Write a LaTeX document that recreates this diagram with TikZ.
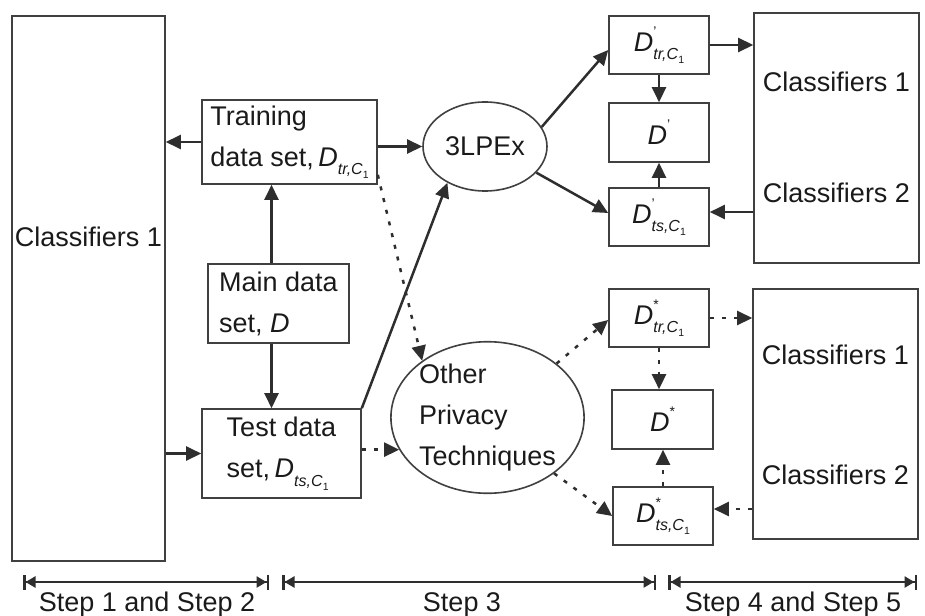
\documentclass[tikz,border=0pt]{standalone}
\usepackage{fontspec}
\setmainfont{Liberation Sans}
\usetikzlibrary{arrows.meta,shapes.geometric}

\definecolor{linec}{HTML}{2E2E2E}
\definecolor{boxc}{HTML}{404040}
\definecolor{txtc}{HTML}{1A1A1A}

% D with a mark (' or *) and a subscript  sub,C_1
\newcommand{\dsetsym}[2]{%
  \textit{D}\rlap{\raisebox{0.55em}{\fontsize{14}{14}\selectfont #1}}%
  \raisebox{-0.33em}{\fontsize{16}{16}\selectfont\textit{#2,C}\raisebox{-0.22em}{\fontsize{10.5}{10.5}\selectfont 1}}}
\newcommand{\dmark}[1]{\textit{D}\raisebox{0.55em}{\fontsize{14}{14}\selectfont #1}}

\begin{document}
\begin{tikzpicture}[x=1pt,y=-1pt,
  every node/.style={text=txtc},
  bigtxt/.style={font=\fontsize{27}{41}\selectfont},
  box/.style={draw=boxc, line width=1.6pt, rectangle, inner sep=0pt,
    align=left, bigtxt},
  oval/.style={draw=boxc, line width=1.6pt, ellipse, inner sep=0pt,
    align=left, bigtxt},
  arr/.style={draw=linec, line width=2.5pt, -{Triangle[length=15pt,width=14pt]}},
  darr/.style={arr, dash pattern=on 4pt off 8pt},
  span/.style={draw=linec, line width=2.5pt,
    {Bar[width=15pt,line width=2.5pt]Triangle[length=10pt,width=11pt]}-{Triangle[length=10pt,width=11pt]Bar[width=15pt,line width=2.5pt]}},
]
\useasboundingbox (0,0) rectangle (925,615);

% classifier blocks
\node[box, minimum width=153pt, minimum height=545pt] (clsL) at (88.5,288.5) {};
\node[bigtxt] (clsLt) at (88.5,237) {Classifiers 1};

\node[box, minimum width=165pt, minimum height=250pt] (clsA) at (836.5,138) {};
\node[bigtxt] (clsAa) at (836.5,82) {Classifiers 1};
\node[bigtxt] (clsAb) at (836.5,193) {Classifiers 2};

\node[box, minimum width=165pt, minimum height=250pt] (clsB) at (835.5,414) {};
\node[bigtxt] (clsBa) at (835.5,355) {Classifiers 1};
\node[bigtxt] (clsBb) at (835.5,475) {Classifiers 2};

% data set blocks
\node[box, minimum width=175pt, minimum height=84pt] (train) at (289.5,142)
  {Training\\data set,\,\dsetsym{}{tr}};
\node[box, minimum width=141pt, minimum height=79pt] (main) at (278.5,303.5)
  {Main data\\set, \textit{D}};
\node[box, minimum width=159pt, minimum height=89pt] (test) at (281.5,453.5)
  {Test data\\set,\,\dsetsym{}{ts}};

% privacy techniques
\node[oval, minimum width=124pt, minimum height=89pt] (lpex) at (485,146.5) {3LPEx};
\node[oval, minimum width=193pt, minimum height=127pt] (other) at (487.5,417.5)
  {Other\\Privacy\\Techniques};

% anonymised data sets
\node[box, minimum width=100pt, minimum height=58pt] (dtrA) at (659,45) {\dsetsym{'}{tr}};
\node[box, minimum width=100pt, minimum height=59pt] (dA) at (659,132.5) {\dmark{'}};
\node[box, minimum width=100pt, minimum height=58pt] (dtsA) at (659,217) {\dsetsym{'}{ts}};

\node[box, minimum width=100pt, minimum height=58pt] (dtrB) at (659,318) {\dsetsym{*}{tr}};
\node[box, minimum width=101pt, minimum height=59pt] (dB) at (662.5,419.5) {\dmark{*}};
\node[box, minimum width=100pt, minimum height=58pt] (dtsB) at (663,516) {\dsetsym{*}{ts}};

% splitting the main data set
\draw[arr] ([xshift=-7pt]main.north) -- ([xshift=-7pt]main.north |- train.south);
\draw[arr] ([xshift=-7pt]main.south) -- ([xshift=-7pt]main.south |- test.north);
\draw[arr] (train.west) -- (train.west -| clsL.east);
\draw[arr] (clsL.east |- test.west) -- (test.west);

% into the privacy techniques
\draw[arr] (lpex.west -| train.east) -- (lpex.west);
\draw[arr] (test.north east) -- (lpex.224);
\draw[darr] ([yshift=10pt]train.south east) -- (other.139);
\draw[darr] (test.east |- other.200) -- (other.200);

% 3LPEx outputs
\draw[arr] (lpex.19) -- ([yshift=-5pt]dtrA.west);
\draw[arr] (lpex.-27) -- ([yshift=4pt]dtsA.west);
\draw[arr] (dtrA.south) -- (dtrA.south |- dA.north);
\draw[arr] (dtsA.north) -- (dtsA.north |- dA.south);
\draw[arr] (dtrA.east) -- (dtrA.east -| clsA.west);
\draw[arr] ([yshift=5pt]dtsA.east -| clsA.west) -- ([yshift=5pt]dtsA.east);

% other techniques outputs
\draw[darr] (other.38) -- ([yshift=-2pt]dtrB.west);
\draw[darr] (other.-40) -- (dtsB.west);
\draw[darr] (dtrB.south) -- (dtrB.south |- dB.north);
\draw[darr] (dtsB.north) -- (dtsB.north |- dB.south);
\draw[darr] (dtrB.east) -- (dtrB.east -| clsB.west);
\draw[darr] ([yshift=7pt]dtsB.east -| clsB.west) -- ([yshift=7pt]dtsB.east);

% step spans
\coordinate (s1l) at (23,582);  \coordinate (s1r) at (269,582);
\coordinate (s2l) at (282,582); \coordinate (s2r) at (656,582);
\coordinate (s3l) at (668,582); \coordinate (s3r) at (917,582);
\draw[span] (s1l) -- (s1r);
\draw[span] (s2l) -- (s2r);
\draw[span] (s3l) -- (s3r);
\node[bigtxt, anchor=base] (st1) at (147,611) {Step 1 and Step 2};
\node[bigtxt, anchor=base] (st2) at (462,611) {Step 3};
\node[bigtxt, anchor=base] (st3) at (793,611) {Step 4 and Step 5};
\end{tikzpicture}
\end{document}
